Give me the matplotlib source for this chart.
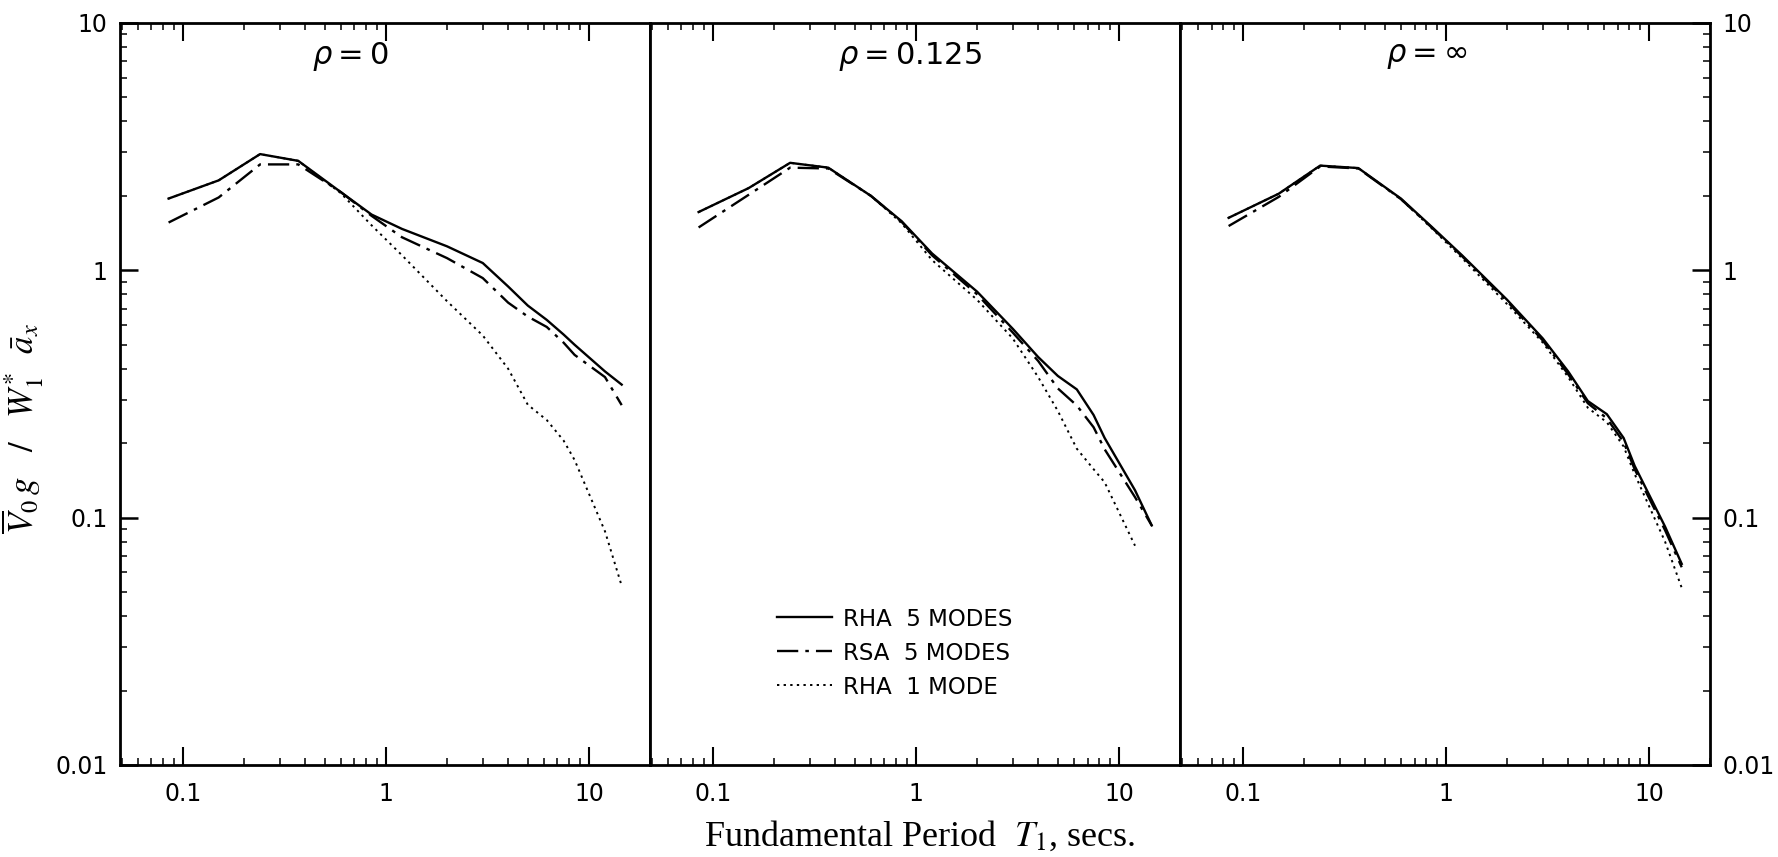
import numpy as np
import matplotlib
matplotlib.use("Agg")
import matplotlib.pyplot as plt
from matplotlib.ticker import FixedLocator, LogLocator, FuncFormatter, NullFormatter

plt.rcParams["mathtext.fontset"] = "stix"
plt.rcParams["font.family"] = ["DejaVu Sans"]

# ---- data ----
period = [0.085, 0.15, 0.24, 0.37, 0.6, 0.85, 1.2, 2.0, 3.0, 4.0, 5.0, 6.2, 7.5, 8.5, 12.0, 14.5]

rho_labels = ["0", "0.125", "\u221e"]

rha5_rho0 = [1.95, 2.31, 2.95, 2.77, 2.07, 1.68, 1.47, 1.25, 1.07, 0.86, 0.72, 0.63, 0.55, 0.50, 0.39, 0.345]
rsa5_rho0 = [1.56, 1.97, 2.68, 2.68, 2.07, 1.66, 1.36, 1.12, 0.93, 0.74, 0.65, 0.59, 0.51, 0.455, 0.37, 0.285]
rha1_rho0 = [1.95, 2.31, 2.95, 2.77, 2.05, 1.52, 1.15, 0.75, 0.545, 0.40, 0.286, 0.248, 0.205, 0.171, 0.088, 0.053]

rha5_rho0125 = [1.72, 2.15, 2.72, 2.60, 2.00, 1.58, 1.17, 0.82, 0.58, 0.446, 0.374, 0.33, 0.26, 0.21, 0.129, 0.093]
rsa5_rho0125 = [1.49, 2.02, 2.60, 2.58, 2.00, 1.57, 1.15, 0.80, 0.56, 0.43, 0.333, 0.284, 0.232, 0.189, 0.121, 0.093]
rha1_rho0125 = [1.72, 2.15, 2.72, 2.60, 2.00, 1.55, 1.10, 0.76, 0.53, 0.37, 0.27, 0.19, 0.157, 0.139, 0.077, np.nan]

rha5_rhoinf = [1.63, 2.04, 2.65, 2.59, 1.95, 1.50, 1.15, 0.76, 0.53, 0.39, 0.296, 0.262, 0.21, 0.162, 0.092, 0.065]
rsa5_rhoinf = [1.51, 1.98, 2.63, 2.58, 1.94, 1.49, 1.14, 0.75, 0.52, 0.38, 0.29, 0.252, 0.202, 0.157, 0.089, 0.063]
rha1_rhoinf = [1.63, 2.04, 2.65, 2.59, 1.94, 1.48, 1.12, 0.73, 0.51, 0.37, 0.278, 0.243, 0.194, 0.150, 0.080, 0.052]

series_names = ["RHA  5 MODES", "RSA  5 MODES", "RHA  1 MODE"]
panels = [
    [rha5_rho0, rsa5_rho0, rha1_rho0],
    [rha5_rho0125, rsa5_rho0125, rha1_rho0125],
    [rha5_rhoinf, rsa5_rhoinf, rha1_rhoinf],
]

line_styles = ["-", (0, (9, 3, 1.5, 3)), (0, (1.2, 2.2))]
line_widths = [1.7, 1.7, 1.4]

fig, axes = plt.subplots(1, 3, figsize=(17.78, 8.57), dpi=100)
fig.subplots_adjust(left=0.0675, right=0.9618, bottom=0.1074, top=0.9732, wspace=0)

title_x = [0.434, 0.49, 0.465]
fmt = FuncFormatter(lambda v, p: f"{v:g}")

for i, ax in enumerate(axes):
    for vals, ls, lw, name in zip(panels[i], line_styles, line_widths, series_names):
        ax.plot(period, vals, color="black", linestyle=ls, linewidth=lw, label=name)
    ax.set_xscale("log")
    ax.set_yscale("log")
    ax.set_xlim(0.049, 20)
    ax.set_ylim(0.01, 10)
    ax.xaxis.set_major_locator(FixedLocator([0.1, 1, 10]))
    ax.xaxis.set_major_formatter(fmt)
    ax.xaxis.set_minor_locator(LogLocator(base=10, subs=np.arange(2, 10)))
    ax.xaxis.set_minor_formatter(NullFormatter())
    ax.yaxis.set_major_locator(FixedLocator([0.01, 0.1, 1, 10]))
    ax.yaxis.set_major_formatter(fmt)
    ax.yaxis.set_minor_locator(LogLocator(base=10, subs=np.arange(2, 10)))
    ax.yaxis.set_minor_formatter(NullFormatter())
    ax.tick_params(axis="x", which="both", direction="in", top=True, bottom=True)
    ax.tick_params(axis="x", which="major", length=13, width=1.5, labelsize=17, pad=12)
    ax.tick_params(axis="x", which="minor", length=5, width=1.1)
    ax.tick_params(axis="y", which="both", direction="in",
                   left=(i == 0), right=(i == 2), labelleft=(i == 0), labelright=(i == 2))
    ax.tick_params(axis="y", which="major", length=13, width=1.8, labelsize=17, pad=9)
    ax.tick_params(axis="y", which="minor", length=5, width=1.1)
    for sp in ax.spines.values():
        sp.set_linewidth(2.0)
    ax.text(title_x[i], 0.955, "$\\rho$\u2009=\u2009" + rho_labels[i], transform=ax.transAxes,
            ha="center", va="center", fontsize=22, math_fontfamily="dejavusans")

leg = axes[1].legend(loc="upper left", bbox_to_anchor=(0.2, 0.24), frameon=False,
                     fontsize=16.5, handlelength=2.4, handletextpad=0.5, labelspacing=0.48)

fig.text(0.013, 0.50, r"$\overline{V}_0\, g\quad /\quad W_1^{*}\ \ \bar{a}_x$", rotation=90,
         ha="center", va="center", fontsize=25)
fig.text(0.517, 0.024, r"Fundamental Period  $T_1$, secs.", ha="center", va="center",
         fontsize=26, family="Liberation Serif")

fig.savefig("out.png", dpi=100)
